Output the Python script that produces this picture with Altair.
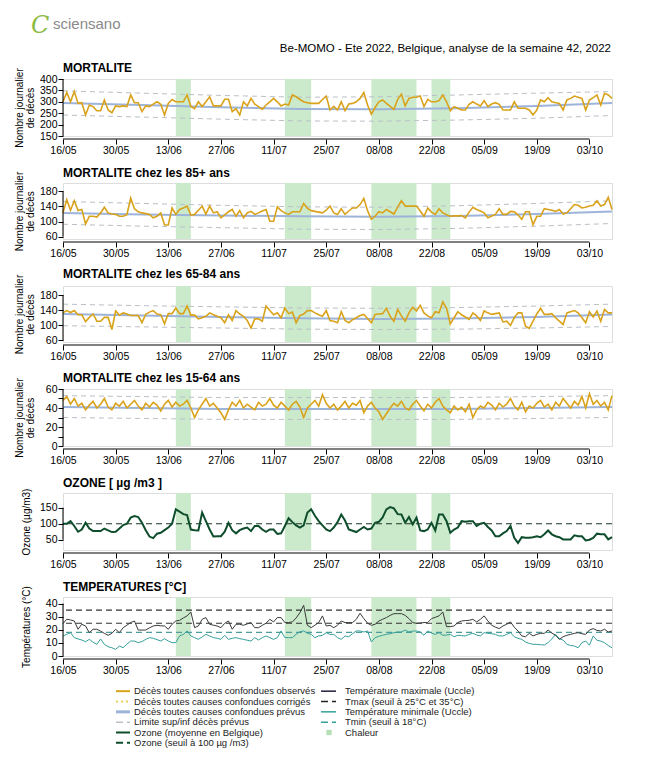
import altair as alt
import pandas as pd

# ---------------- data ----------------
START = "2022-05-16"
N_DAYS = 147
XTICKS = ["2022-05-16", "2022-05-30", "2022-06-13", "2022-06-27", "2022-07-11", "2022-07-25",
          "2022-08-08", "2022-08-22", "2022-09-05", "2022-09-19", "2022-10-03"]
HEAT_START = ["2022-06-15", "2022-07-14", "2022-08-06", "2022-08-22"]
HEAT_END = ["2022-06-19", "2022-07-21", "2022-08-18", "2022-08-27"]
EXP_DAYS = [0, 21, 42, 63, 84, 105, 126, 146]

MORT_OBS = [300, 341, 300, 345, 293, 296, 242, 286, 279, 261,
            261, 308, 264, 252, 282, 279, 282, 279, 330, 296,
            296, 257, 282, 279, 290, 300, 289, 242, 293, 310,
            300, 300, 300, 330, 280, 270, 300, 279, 300, 322,
            282, 282, 282, 311, 311, 257, 270, 242, 300, 282,
            315, 290, 279, 267, 286, 300, 315, 300, 282, 290,
            286, 330, 322, 310, 300, 296, 293, 293, 293, 310,
            325, 264, 280, 264, 300, 261, 290, 293, 300, 315,
            341, 286, 246, 275, 300, 308, 293, 280, 267, 311,
            333, 282, 315, 320, 320, 325, 279, 311, 300, 300,
            305, 330, 300, 261, 279, 272, 264, 264, 289, 300,
            290, 282, 305, 279, 290, 296, 289, 264, 264, 264,
            300, 272, 272, 272, 264, 242, 264, 308, 300, 318,
            300, 296, 293, 264, 308, 315, 325, 320, 315, 264,
            308, 318, 330, 286, 337, 330, 315]
MORT_EXP = [295, 286, 276, 268, 267, 272, 282, 295]
MORT_UP = [348, 338, 328, 320, 322, 330, 338, 345]
MORT_LO = [242, 233, 224, 216, 215, 220, 228, 240]

M85_OBS = [123, 158, 130, 155, 129, 132, 94, 114, 114, 112,
           123, 138, 123, 120, 119, 114, 114, 118, 162, 134,
           126, 123, 121, 119, 110, 114, 123, 91, 91, 136,
           119, 132, 136, 141, 117, 119, 130, 141, 120, 141,
           123, 126, 110, 118, 126, 132, 114, 129, 110, 123,
           127, 119, 123, 128, 132, 101, 101, 139, 129, 123,
           119, 126, 126, 126, 148, 135, 129, 127, 125, 123,
           130, 141, 123, 119, 134, 119, 128, 136, 136, 145,
           161, 129, 106, 114, 126, 123, 132, 126, 120, 138,
           155, 141, 141, 141, 141, 128, 114, 136, 125, 119,
           134, 123, 118, 114, 115, 115, 116, 110, 125, 138,
           132, 128, 123, 110, 115, 119, 134, 119, 119, 127,
           126, 118, 106, 126, 126, 92, 114, 114, 134, 132,
           130, 127, 132, 120, 123, 134, 145, 143, 136, 138,
           141, 143, 155, 141, 145, 164, 132]
M85_EXP = [123, 119, 116, 114, 113, 115, 120, 127]
M85_UP = [153, 148, 143, 139, 138, 142, 148, 155]
M85_LO = [93, 88, 84, 80, 79, 82, 88, 95]

M6584_OBS = [133, 139, 134, 139, 128, 128, 110, 121, 130, 111,
             111, 121, 121, 89, 138, 127, 133, 130, 126, 126,
             126, 107, 129, 135, 139, 130, 128, 104, 131, 131,
             146, 131, 131, 151, 127, 127, 117, 120, 124, 133,
             128, 124, 120, 107, 128, 113, 139, 130, 124, 113,
             93, 117, 117, 111, 151, 139, 128, 133, 120, 146,
             131, 135, 107, 126, 130, 139, 139, 133, 128, 124,
             139, 113, 111, 107, 136, 113, 107, 115, 120, 126,
             129, 118, 107, 129, 130, 131, 145, 124, 111, 142,
             125, 111, 133, 148, 138, 153, 133, 125, 120, 136,
             133, 162, 145, 104, 120, 136, 128, 122, 116, 133,
             125, 113, 138, 133, 129, 131, 133, 109, 111, 100,
             120, 133, 133, 98, 92, 111, 130, 145, 129, 129,
             131, 120, 111, 102, 133, 136, 139, 133, 120, 107,
             136, 122, 138, 111, 142, 133, 133]
M6584_EXP = [130, 126, 122, 119, 117, 118, 122, 129]
M6584_UP = [156, 152, 149, 146, 145, 147, 151, 156]
M6584_LO = [99, 96, 93, 90, 89, 90, 93, 97]

M1564_OBS = [48, 52, 44, 50, 42, 45, 38, 43, 47, 40,
             44, 50, 41, 38, 45, 42, 47, 40, 44, 48,
             42, 38, 45, 41, 46, 43, 37, 44, 48, 41,
             46, 42, 44, 48, 40, 30, 38, 44, 50, 42,
             45, 40, 35, 28, 38, 46, 42, 48, 40, 44,
             41, 38, 46, 42, 44, 50, 43, 40, 46, 42,
             38, 44, 47, 41, 30, 40, 44, 48, 42, 54,
             45, 40, 44, 38, 42, 47, 40, 45, 43, 48,
             35, 42, 46, 40, 36, 28, 34, 40, 45, 42,
             47, 40, 38, 44, 48, 42, 37, 44, 40, 46,
             50, 42, 38, 35, 42, 38, 41, 36, 44, 30,
             38, 42, 40, 46, 43, 38, 45, 41, 44, 50,
             42, 38, 46, 36, 42, 40, 45, 48, 41, 44,
             38, 46, 42, 50, 45, 40, 47, 43, 52, 40,
             55, 44, 48, 42, 46, 38, 53]
M1564_EXP = [41, 40, 39, 39, 39, 39, 40, 41]
M1564_UP = [53, 52, 51, 51, 51, 51, 52, 53]
M1564_LO = [30, 29, 28, 28, 28, 28, 29, 30]

OZONE = [100, 100, 108, 93, 75, 82, 103, 85, 77, 77,
         77, 85, 79, 74, 75, 85, 96, 100, 119, 124,
         121, 103, 80, 60, 55, 69, 72, 80, 88, 100,
         145, 138, 130, 127, 82, 80, 79, 135, 108, 82,
         60, 61, 61, 75, 103, 80, 70, 80, 85, 88,
         77, 93, 93, 82, 75, 82, 82, 68, 70, 93,
         117, 105, 95, 88, 95, 135, 145, 125, 108, 95,
         82, 77, 88, 105, 129, 110, 82, 78, 74, 82,
         90, 82, 85, 103, 106, 120, 145, 152, 148, 130,
         129, 103, 121, 98, 119, 79, 77, 82, 103, 79,
         129, 129, 108, 72, 82, 88, 108, 106, 108, 108,
         93, 100, 103, 90, 79, 61, 61, 70, 77, 93,
         56, 40, 58, 56, 56, 58, 61, 58, 67, 79,
         67, 61, 58, 51, 51, 51, 64, 61, 61, 48,
         50, 56, 69, 67, 67, 51, 58]
OZONE_THR = [100]

TMAX = [24.7, 28, 27.5, 26.7, 20.4, 24.2, 22.9, 17.8, 20.4, 20.4,
        19, 17.3, 15.8, 17.3, 20.4, 17.8, 21.6, 23.5, 25.5, 26.7,
        19.8, 19.8, 19.8, 21.5, 22.9, 23.4, 23, 22.9, 20.4, 24.2,
        26.7, 27.2, 29, 30.6, 33.6, 21.6, 22.9, 28, 29.3, 24.2,
        23.5, 22.9, 21.6, 24.9, 26.7, 20.4, 24.2, 24.2, 23.4, 24.5,
        25.5, 21.6, 21.6, 23.4, 25, 28, 26, 29.3, 29.3, 25.5,
        25.5, 26, 29, 33, 38.7, 23.4, 21.6, 23.5, 25.5, 30.6,
        22.9, 23.4, 21.6, 23.4, 26.7, 25.5, 25.5, 25.5, 28, 32.6,
        28.5, 25, 23.4, 24.2, 26.7, 28, 29.3, 31, 32.3, 32.3,
        32.3, 31, 28.5, 25.5, 24.9, 25.2, 25.5, 25.5, 28.5, 29.5,
        30.6, 33.6, 22.4, 22.4, 22.9, 25.5, 26.7, 27, 27.2, 28,
        26, 28, 30.6, 26.7, 23.4, 22, 20.9, 22.9, 24.2, 26,
        22, 19.1, 15.3, 14.7, 17.3, 15.3, 16.5, 17.3, 17.3, 19.8,
        17.5, 15.8, 12.7, 14.7, 15.8, 16.5, 17.3, 17.8, 17, 16.5,
        19.8, 20.9, 19.5, 19.1, 20.4, 18.3, 19.1]
TMIN = [15.3, 16.5, 17.8, 14, 13, 12.2, 10.9, 12.7, 10.5, 8.9,
        13, 8.9, 7.1, 6.3, 5.1, 7.6, 6.3, 9, 11.4, 11.4,
        10.2, 11, 12.7, 14, 13.5, 12.5, 11.4, 13.2, 11.4, 10.2,
        10.2, 15.3, 16.5, 19.1, 15.3, 14, 12.7, 14.5, 16.5, 15.3,
        14, 13.5, 12.7, 15.8, 12.7, 13.5, 14, 13.2, 12.7, 12,
        11.4, 14, 12.2, 14, 15.3, 14, 12.7, 14, 19.1, 14,
        14, 14, 16.5, 18.5, 19.1, 17.3, 16.5, 14, 15.3, 15.8,
        17.8, 16.5, 16.5, 14, 12.7, 15.3, 14.7, 17, 19.1, 19.1,
        18.3, 19.1, 10.7, 14, 15, 15.8, 16.5, 17, 17.8, 18.3,
        18.3, 19.8, 18.3, 19, 19.1, 18.3, 15.8, 19.1, 17.5, 16.5,
        17.8, 15.8, 16, 16.5, 14.7, 15.8, 15.5, 15.3, 16.5, 17.3,
        16, 15.3, 17.8, 17.3, 17, 16.5, 15.3, 15.3, 16.5, 17.8,
        14.7, 13.5, 12.7, 10.7, 9.6, 8.9, 8.9, 8.6, 8.4, 10.2,
        13, 16.5, 13.2, 12.2, 8.9, 8, 7.6, 6.3, 10.2, 11.4,
        8.2, 15.3, 12, 11.4, 10.2, 8, 6.3]
TMAX_THR = [25, 35]
TMIN_THR = [18]

HEADER_TITLE = "Be-MOMO - Ete 2022, Belgique, analyse de la semaine 42, 2022"
LOGO_TEXT = "sciensano"

LEG_LEFT = ["Décès toutes causes confondues observés",
            "Décès toutes causes confondues corrigés",
            "Décès toutes causes confondues prévus",
            "Limite sup/inf décès prévus",
            "Ozone (moyenne en Belgique)",
            "Ozone (seuil à 100 µg /m3)"]
LEG_RIGHT = ["Température maximale (Uccle)",
             "Tmax (seuil à 25°C et 35°C)",
             "Température minimale (Uccle)",
             "Tmin (seuil à 18°C)",
             "Chaleur"]

# ---------------- styles ----------------
FONT = "Liberation Sans"
GOLD = "#D9A21B"
BLUE = "#9DB4DA"
LIM = "#B9C0C8"
HEAT = "#CBEACB"
OZC = "#0E4D2C"
TMAXC = "#3A3A3A"
TMINC = "#35A09A"
W = 549

LEG_LEFT_STYLE = [("solid", GOLD, 2), ("dot", "#E6CF5E", 2), ("solid", BLUE, 3),
                  ("dash", LIM, 1.5), ("solid", OZC, 2), ("dash", OZC, 2)]
LEG_RIGHT_STYLE = [("solid", "#1E1E3C", 1.5), ("dash", "#222222", 1.5), ("solid", TMINC, 1.5),
                   ("dash", TMINC, 1.5), ("square", "#B5DFB5", 0)]

DATES = pd.date_range(START, periods=N_DAYS, freq="D").strftime("%Y-%m-%dT00:00:00").tolist()


def dt(s):
    y, m, d = (int(v) for v in s.split("-"))
    return alt.DateTime(year=y, month=m, date=d)


XSCALE = alt.Scale(domain=[dt(START), dt(DATES[-1][:10])])
XAXIS = alt.Axis(values=[dt(s) for s in XTICKS], format="%d/%m", domain=False, grid=False,
                 offset=3, tickSize=5, tickColor="#000", labelFontSize=10.5, labelColor="#000",
                 labelPadding=1, labelFlush=False, labelOverlap=False)


def make_panel(title, h, ydom, yticks, ytitle, tpad, toff, layers):
    ysc = alt.Scale(domain=ydom, nice=False, zero=False)
    yax = alt.Axis(values=yticks, domain=False, grid=False, tickSize=5, tickColor="#000",
                   labelFontSize=10.5, labelColor="#000", labelPadding=1, title=ytitle,
                   titleFontSize=10, titleFontWeight="normal", titleColor="#000",
                   titlePadding=tpad, titleLineHeight=11)

    def X(f):
        return alt.X(f, scale=XSCALE, axis=XAXIS, title=None)

    def Y(f):
        return alt.Y(f, scale=ysc, axis=yax)

    heat_df = pd.DataFrame({"s": [s + "T00:00:00" for s in HEAT_START],
                            "e": [s + "T00:00:00" for s in HEAT_END]})
    heat = alt.Chart(heat_df).mark_rect(color=HEAT).encode(x=X("s:T"), x2="e:T")
    xr_df = pd.DataFrame({"a": [DATES[0]], "b": [XTICKS[-1] + "T00:00:00"]})
    xrule = alt.Chart(xr_df).mark_rule(color="#000", strokeWidth=1).encode(
        x=X("a:T"), x2="b:T", y=alt.value(h + 3))
    yr_df = pd.DataFrame({"a": [min(yticks)], "b": [max(yticks)]})
    yrule = alt.Chart(yr_df).mark_rule(color="#000", strokeWidth=1).encode(
        y=Y("a:Q"), y2="b:Q", x=alt.value(0))
    body = [lay(X, Y) for lay in layers]
    return alt.layer(heat, *body, xrule, yrule).properties(
        width=W, height=h,
        title=alt.TitleParams(text=title, anchor="start", fontSize=12, fontWeight="bold",
                              font=FONT, color="#000", offset=toff, frame="group"))


def mort_layers(obs, exp, up, lo):
    df = pd.DataFrame({"date": DATES, "v": obs})
    de = pd.DataFrame({"date": [DATES[i] for i in EXP_DAYS], "exp": exp, "up": up, "lo": lo})

    def f_lim(X, Y):
        return alt.layer(
            alt.Chart(de).mark_line(color=LIM, strokeDash=[5, 4], strokeWidth=1).encode(x=X("date:T"), y=Y("up:Q")),
            alt.Chart(de).mark_line(color=LIM, strokeDash=[5, 4], strokeWidth=1).encode(x=X("date:T"), y=Y("lo:Q")))

    def f_exp(X, Y):
        return alt.Chart(de).mark_line(color=BLUE, strokeWidth=2).encode(x=X("date:T"), y=Y("exp:Q"))

    def f_obs(X, Y):
        return alt.Chart(df).mark_line(color=GOLD, strokeWidth=1.6).encode(x=X("date:T"), y=Y("v:Q"))
    return [f_lim, f_exp, f_obs]


def ozone_layers():
    df = pd.DataFrame({"date": DATES, "v": OZONE})
    dthr = pd.DataFrame({"t": OZONE_THR})

    def f_thr(X, Y):
        return alt.Chart(dthr).mark_rule(color="#1B3526", strokeDash=[6, 4], strokeWidth=1.2).encode(y=Y("t:Q"))

    def f_line(X, Y):
        return alt.Chart(df).mark_line(color=OZC, strokeWidth=2).encode(x=X("date:T"), y=Y("v:Q"))
    return [f_thr, f_line]


def temp_layers():
    df = pd.DataFrame({"date": DATES, "tmax": TMAX, "tmin": TMIN})
    d1 = pd.DataFrame({"t": TMAX_THR})
    d2 = pd.DataFrame({"t": TMIN_THR})

    def f_thr(X, Y):
        return alt.layer(
            alt.Chart(d1).mark_rule(color="#333333", strokeDash=[6, 4], strokeWidth=1.1).encode(y=Y("t:Q")),
            alt.Chart(d2).mark_rule(color="#4F9C9C", strokeDash=[6, 4], strokeWidth=1.1).encode(y=Y("t:Q")))

    def f_lines(X, Y):
        return alt.layer(
            alt.Chart(df).mark_line(color=TMINC, strokeWidth=1).encode(x=X("date:T"), y=Y("tmin:Q")),
            alt.Chart(df).mark_line(color=TMAXC, strokeWidth=1).encode(x=X("date:T"), y=Y("tmax:Q")))
    return [f_thr, f_lines]


MORT_TITLE = ["Nombre journalier", "de décès"]
p1 = make_panel("MORTALITE", 57, [150, 400], [150, 200, 250, 300, 350, 400], MORT_TITLE, 4, -7,
                mort_layers(MORT_OBS, MORT_EXP, MORT_UP, MORT_LO))
p2 = make_panel("MORTALITE chez les 85+ ans", 56, [54, 202], [60, 100, 140, 180], MORT_TITLE, 4, -9,
                mort_layers(M85_OBS, M85_EXP, M85_UP, M85_LO))
p3 = make_panel("MORTALITE chez les 65-84 ans", 56, [56, 204], [60, 100, 140, 180], MORT_TITLE, 4, -7,
                mort_layers(M6584_OBS, M6584_EXP, M6584_UP, M6584_LO))
p4 = make_panel("MORTALITE chez les 15-64 ans", 57, [0, 60], [0, 10, 20, 30, 40, 50, 60], MORT_TITLE, 10, -7,
                mort_layers(M1564_OBS, M1564_EXP, M1564_UP, M1564_LO))
p5 = make_panel("OZONE [ µg /m3 ]", 57, [18, 196], [50, 100, 150], "Ozone (µg/m3)", 8, -2,
                ozone_layers())
p6 = make_panel("TEMPERATURES [°C]", 59, [0, 45], [0, 10, 20, 30, 40], "Températures (°C)", 14, -8,
                temp_layers())

# header
hdf = pd.DataFrame({"t": [HEADER_TITLE]})
ldf = pd.DataFrame({"t": [LOGO_TEXT]})
header = alt.layer(
    alt.Chart(hdf).mark_text(align="right", baseline="middle", fontSize=11.5, color="#000", font=FONT).encode(
        text="t:N", x=alt.value(W - 1), y=alt.value(35)),
    alt.Chart(ldf).mark_text(align="left", baseline="middle", fontSize=15, color="#8A8A8A", font=FONT).encode(
        text="t:N", x=alt.value(-10), y=alt.value(10)),
    alt.Chart(pd.DataFrame({"t": ["C"]})).mark_text(align="left", baseline="middle", fontSize=24,
                                                   fontStyle="italic", color="#8DBB45", font="DejaVu Serif").encode(
        text="t:N", x=alt.value(-32), y=alt.value(12)),
).properties(width=W, height=18, view=alt.ViewBackground(stroke="transparent"))

# legend
rows = []
for i, (lab, st) in enumerate(zip(LEG_LEFT, LEG_LEFT_STYLE)):
    rows.append(dict(row=i, label=lab, style=st[0], color=st[1], w=st[2], sx=53, sx2=67, sxm=60, tx=71))
for i, (lab, st) in enumerate(zip(LEG_RIGHT, LEG_RIGHT_STYLE)):
    rows.append(dict(row=i, label=lab, style=st[0], color=st[1], w=st[2], sx=258, sx2=273, sxm=266, tx=282))
ldata = pd.DataFrame(rows)
LX = alt.Scale(domain=[0, W], nice=False, zero=False)
LY = alt.Y("row:O", axis=None)
lbase = alt.Chart(ldata)
LOFF = -17


def lrule(style, dash):
    m = lbase.mark_rule(strokeDash=dash, yOffset=LOFF) if dash else lbase.mark_rule(yOffset=LOFF)
    return m.transform_filter(alt.datum.style == style).encode(
        x=alt.X("sx:Q", scale=LX, axis=None), x2="sx2:Q", y=LY,
        color=alt.Color("color:N", scale=None), size=alt.Size("w:Q", scale=None))


legend = alt.layer(
    lrule("solid", None),
    lrule("dash", [7, 4]),
    lrule("dot", [2, 3]),
    lbase.mark_square(size=28, opacity=1, yOffset=LOFF).transform_filter(alt.datum.style == "square").encode(
        x=alt.X("sxm:Q", scale=LX, axis=None), y=LY, color=alt.Color("color:N", scale=None)),
    lbase.mark_text(align="left", baseline="middle", fontSize=9.5, color="#222", font=FONT, yOffset=LOFF).encode(
        x=alt.X("tx:Q", scale=LX, axis=None), y=LY, text="label:N"),
).properties(width=W, height=62, view=alt.ViewBackground(stroke="transparent"))

chart = alt.vconcat(header, p1, p2, p3, p4, p5, p6, legend, spacing=47, bounds="flush").properties(
    padding={"left": 5, "top": 5, "right": 5, "bottom": 5}
).configure_view(strokeWidth=0).configure_axis(labelFont=FONT, titleFont=FONT).configure(
    background="white")

chart.save("out.html", embed_options={"renderer": "svg", "actions": False})
